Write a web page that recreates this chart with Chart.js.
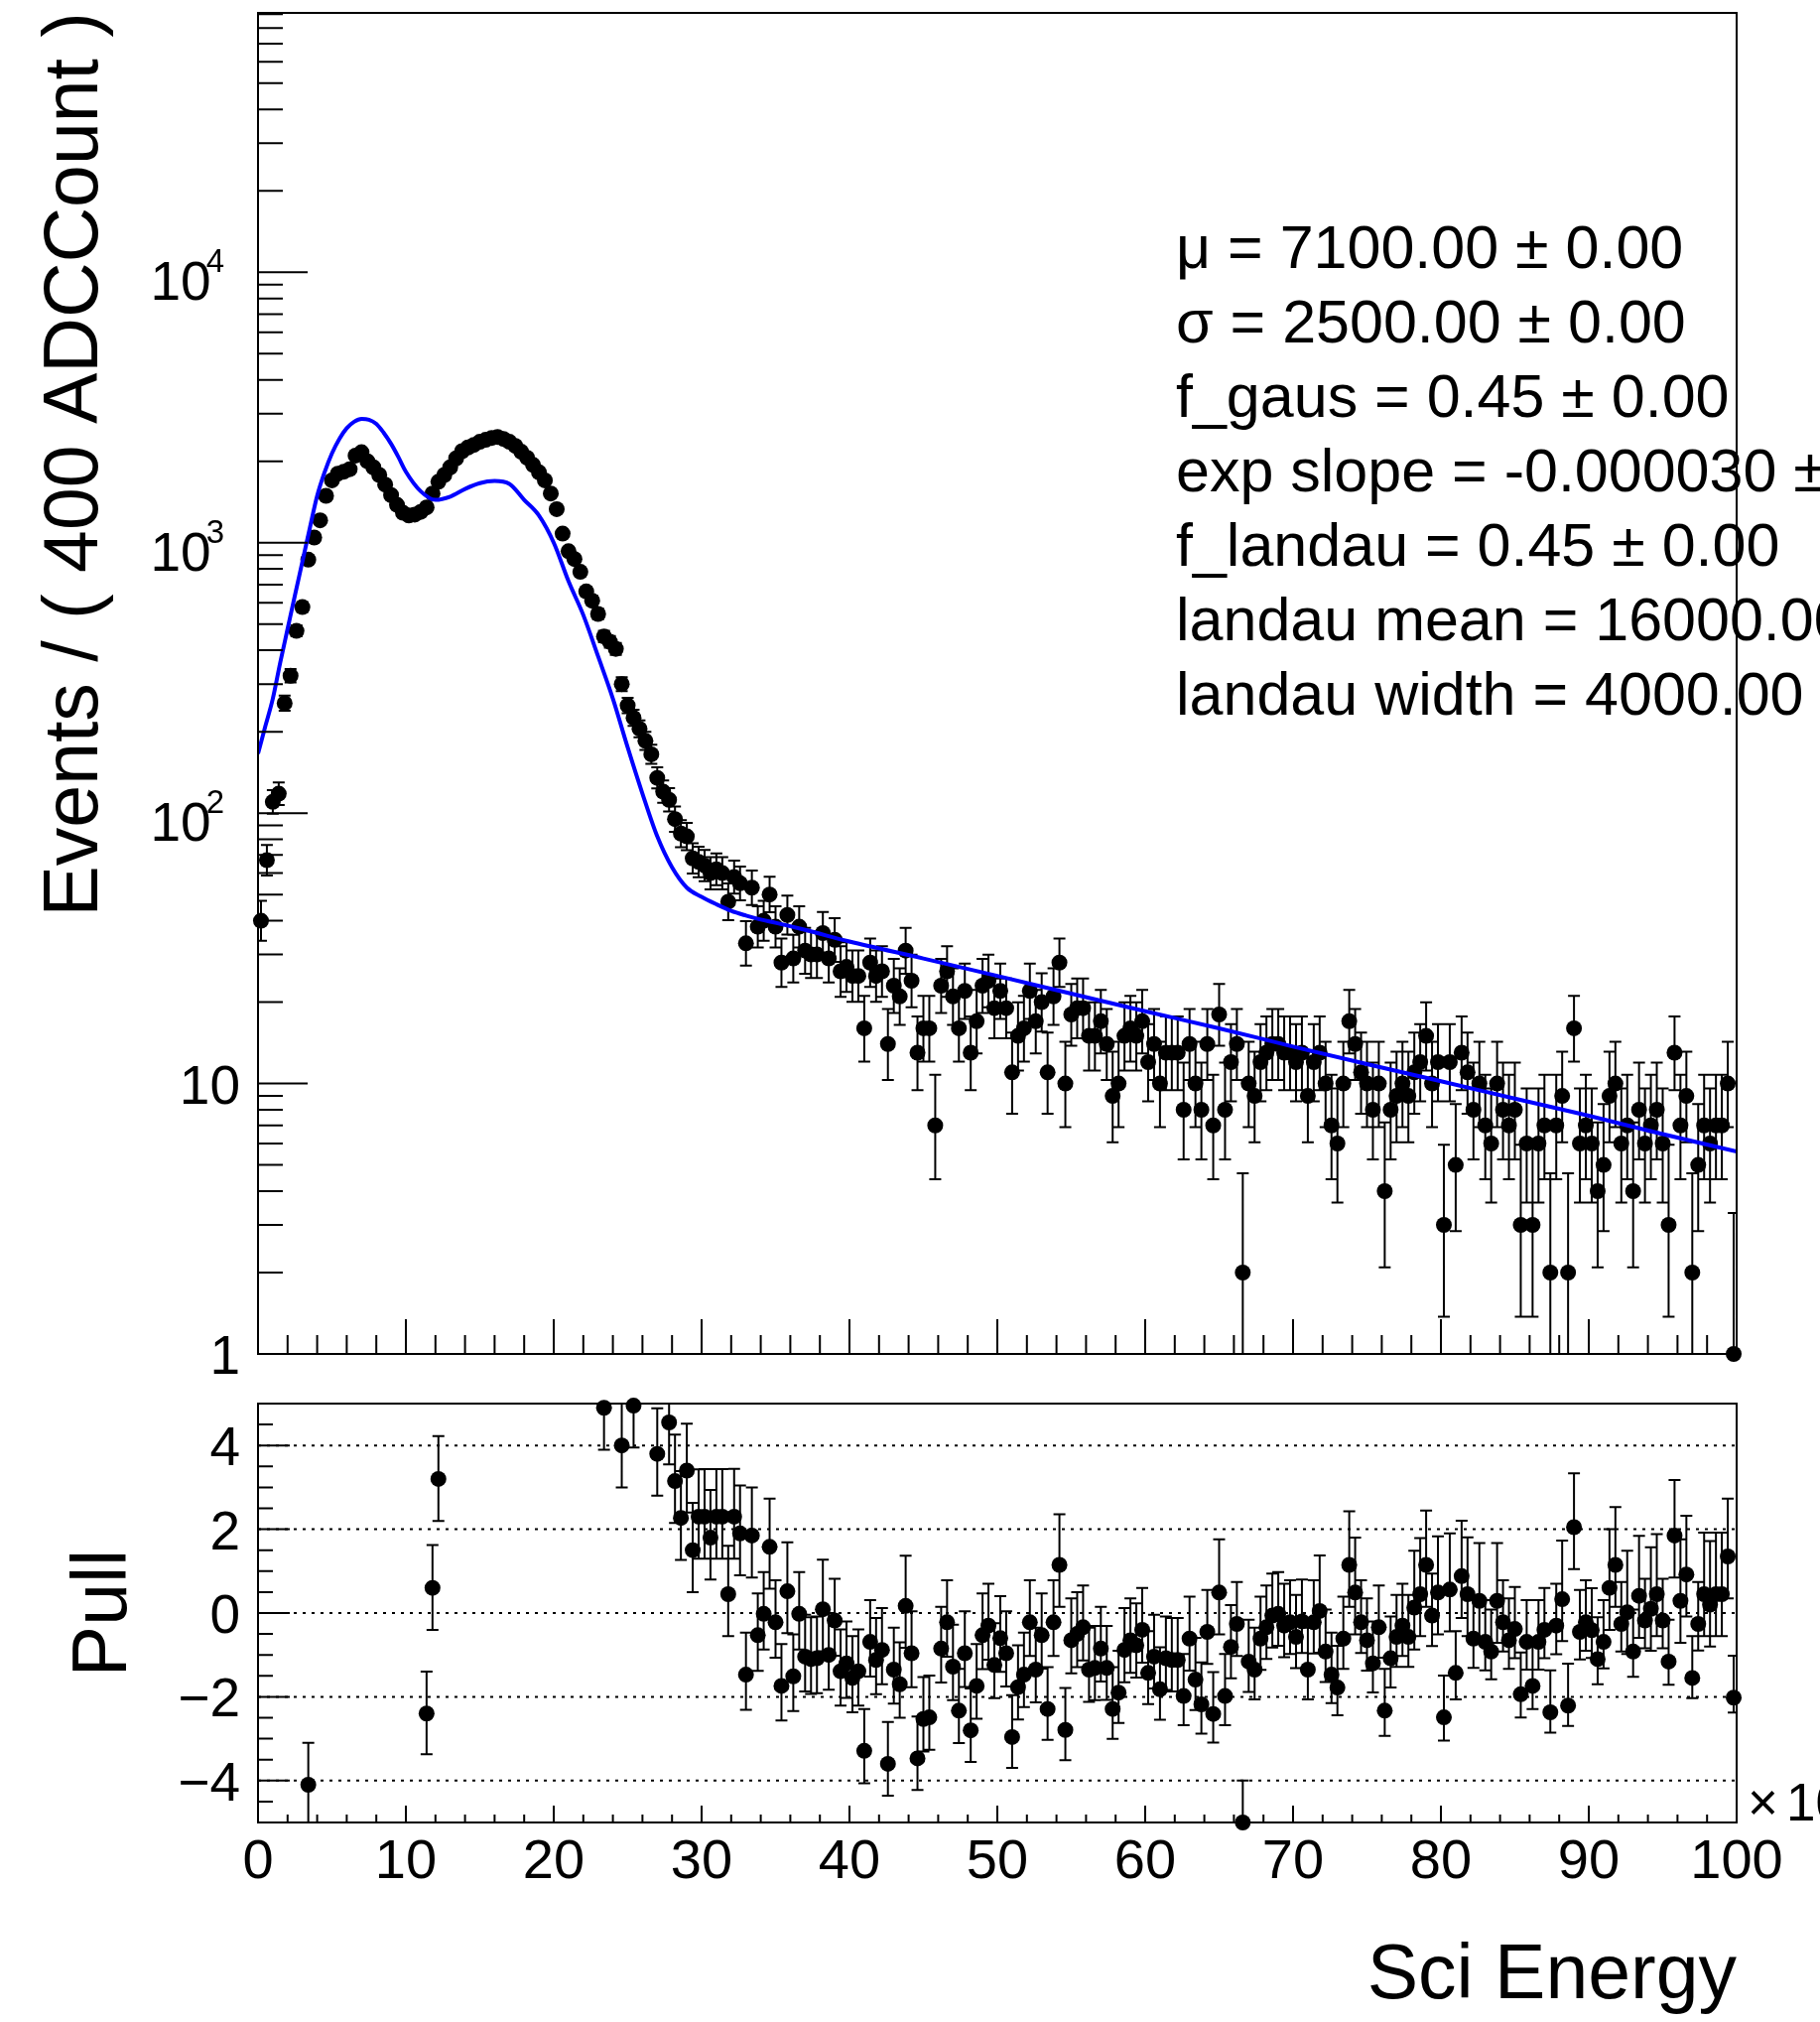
<!DOCTYPE html>
<html>
<head>
<meta charset="utf-8">
<script src="https://cdn.jsdelivr.net/npm/chart.js@4.4.1/dist/chart.umd.min.js"></script>
<style>
  html, body { margin: 0; padding: 0; background: #fff; }
  #wrap { position: relative; width: 1834px; height: 2037px; overflow: hidden; background: #fff; }
  #topChart { position: absolute; left: 0; top: 0; }
  #pullChart { position: absolute; left: 0; top: 1390px; }
</style>
</head>
<body>
<div id="wrap">
  <canvas id="topChart" width="1834" height="1390"></canvas>
  <canvas id="pullChart" width="1834" height="647"></canvas>
</div>
<script>
// bins of 400 ADC counts, x axis shown in units of 10^3
const BIN_WIDTH = 0.4;

// events per bin, 250 bins from 0 to 100 (x10^3)
const counts = [
  40, 67, 110, 118, 255, 322, 472, 578, 865, 1045,
  1210, 1490, 1700, 1800, 1830, 1870, 2100, 2160, 2000, 1900,
  1780, 1640, 1500, 1380, 1290, 1260, 1270, 1300, 1350, 1520,
  1680, 1780, 1900, 2050, 2180, 2250, 2300, 2360, 2400, 2440,
  2460, 2420, 2360, 2280, 2170, 2060, 1940, 1820, 1700, 1520,
  1330, 1080, 930, 870, 780, 660, 610, 545, 450, 430,
  405, 300, 250, 225, 205, 185, 165, 135, 120, 112,
  95, 84, 82, 68, 66, 64, 60, 62, 60, 47,
  58, 55, 33, 53, 38, 40, 50, 38, 28, 42,
  29, 38, 31, 30, 30, 36, 29, 34, 26, 27,
  25, 25, 16, 28, 25, 26, 14, 23, 21, 31,
  24, 13, 16, 16, 7, 23, 26, 21, 16, 22,
  13, 17, 23, 24, 19, 22, 19, 11, 15, 16,
  22, 17, 20, 11, 21, 28, 10, 18, 19, 19,
  15, 15, 17, 14, 9, 10, 15, 16, 15, 17,
  12, 14, 10, 13, 13, 13, 8, 14, 10, 8,
  14, 7, 18, 8, 12, 14, 2, 10, 9, 12,
  13, 14, 14, 13, 13, 12, 13, 9, 12, 13,
  10, 7, 6, 10, 17, 14, 11, 10, 8, 10,
  4, 8, 9, 10, 9, 11, 12, 15, 10, 12,
  3, 12, 5, 13, 11, 8, 10, 7, 6, 10,
  8, 7, 8, 3, 6, 3, 6, 7, 2, 7,
  9, 2, 16, 6, 7, 6, 4, 5, 9, 10,
  6, 7, 4, 8, 6, 7, 8, 6, 3, 13,
  7, 9, 2, 5, 7, 6, 7, 7, 10, 1
];

// pull per bin (null = outside the [-5, 5] window)
const pulls = [
  null, null, null, null, null, null, null, null, -4.1, null,
  null, null, null, null, null, null, null, null, null, null,
  null, null, null, null, null, null, null, null, -2.4, 0.6,
  3.2, null, null, null, null, null, null, null, null, null,
  null, null, null, null, null, null, null, null, null, null,
  null, null, null, null, null, null, null, null, 4.9, null,
  null, 4.0, null, 4.95, null, null, null, 3.8, null, 4.55,
  3.15, 2.27, 3.4, 1.5, 2.3, 2.3, 1.8, 2.3, 2.3, 0.45,
  2.3, 1.9, -1.47, 1.85, -0.53, -0.02, 1.58, -0.22, -1.74, 0.52,
  -1.51, -0.02, -1.04, -1.1, -1.08, 0.09, -1.0, -0.18, -1.39, -1.2,
  -1.55, -1.39, -3.29, -0.69, -1.12, -0.88, -3.6, -1.35, -1.7, 0.17,
  -0.96, -3.47, -2.53, -2.49, null, -0.85, -0.22, -1.28, -2.33, -0.96,
  -2.8, -1.74, -0.53, -0.3, -1.24, -0.6, -0.96, -2.96, -1.77, -1.47,
  -0.22, -1.35, -0.53, -2.29, -0.22, 1.15, -2.79, -0.65, -0.5, -0.34,
  -1.35, -1.31, -0.85, -1.31, -2.29, -1.9, -0.88, -0.65, -0.77, -0.4,
  -1.43, -1.04, -1.82, -1.08, -1.12, -1.12, -1.98, -0.61, -1.59, -2.18,
  -0.45, -2.41, 0.49, -1.98, -0.81, -0.26, -5.0, -1.16, -1.35, -0.61,
  -0.34, -0.06, -0.02, -0.3, -0.22, -0.57, -0.2, -1.35, -0.22, 0.05,
  -0.92, -1.47, -1.78, -0.61, 1.15, 0.49, -0.22, -0.65, -1.2, -0.34,
  -2.33, -1.08, -0.57, -0.3, -0.57, 0.13, 0.45, 1.15, -0.06, 0.49,
  -2.49, 0.56, -1.43, 0.88, 0.45, -0.61, 0.29, -0.69, -0.92, 0.29,
  -0.22, -0.65, -0.38, -1.94, -0.69, -1.74, -0.69, -0.4, -2.37, -0.3,
  0.33, -2.21, 2.05, -0.45, -0.22, -0.41, -1.1, -0.69, 0.6, 1.15,
  -0.26, 0.02, -0.92, 0.41, -0.18, 0.1, 0.45, -0.18, -1.16, 1.85,
  0.29, 0.92, -1.55, -0.26, 0.45, 0.2, 0.45, 0.45, 1.35, -2.02
];

// fitted model curve
const fitX = [0, 0.5, 1, 1.5, 2, 2.5, 3, 3.5, 4, 4.5, 5, 5.5, 6, 6.5, 7, 7.5, 8, 8.5, 9, 9.5,
  10, 11, 12, 13, 14, 15, 16, 17, 18, 19, 20, 21, 22, 23, 24, 25, 26, 27, 28, 29,
  30, 31, 32, 33, 34, 35, 37, 40, 45, 50, 55, 60, 65, 70, 75, 80, 85, 90, 95, 100];
const fitY = [166, 210, 265, 360, 480, 640, 850, 1130, 1490, 1820, 2140, 2420, 2650, 2800, 2870, 2850, 2750, 2550, 2320, 2070,
  1830, 1550, 1440, 1480, 1580, 1660, 1690, 1650, 1440, 1260, 1000, 720, 540, 380, 265, 175, 118, 82, 63, 53,
  49, 46, 43.5, 41.8, 40.4, 39.3, 37, 33.5, 29, 25, 21.5, 18.5, 16, 13.7, 11.8, 10.2, 8.8, 7.6, 6.5, 5.6];

const xLabelTicks = [0, 10, 20, 30, 40, 50, 60, 70, 80, 90, 100];
const topYTicks = [1, 10, 100, 1000, 10000];
const topYBase = ['1', '10', '10', '10', '10'];
const topYExp = ['', '', '2', '3', '4'];
const pullYTicks = [-4, -2, 0, 2, 4];
const pullYLabels = ['\u22124', '\u22122', '0', '2', '4'];

const statLines = [
  '\u03bc = 7100.00 \u00b1 0.00',
  '\u03c3 = 2500.00 \u00b1 0.00',
  'f_gaus = 0.45 \u00b1 0.00',
  'exp slope = -0.000030 \u00b1 0.000000',
  'f_landau = 0.45 \u00b1 0.00',
  'landau mean = 16000.00 \u00b1 0.00',
  'landau width = 4000.00 \u00b1 0.00'
];

const FONT = '"Liberation Sans", Arial, Helvetica, sans-serif';
const MARKER_R = 8;

// Gehrels approximation of the 68% Poisson interval
function poissonLo(n) {
  if (n <= 0) return 0;
  const t = 1 - 1 / (9 * n) - 1 / (3 * Math.sqrt(n));
  return n * t * t * t;
}
function poissonHi(n) {
  return n + Math.sqrt(n + 0.75) + 1;
}

const dataPts = counts.map((n, i) => ({ x: BIN_WIDTH * (i + 0.5), y: n }));
const fitPts = fitX.map((v, i) => ({ x: v, y: fitY[i] }));
const pullPts = [];
pulls.forEach((p, i) => {
  if (p !== null) pullPts.push({ x: BIN_WIDTH * (i + 0.5), y: p, n: counts[i] });
});

function clipArea(ctx, a) {
  ctx.beginPath();
  ctx.rect(a.left, a.top, a.right - a.left, a.bottom - a.top);
  ctx.clip();
}

const topPlugin = {
  id: 'topPlugin',
  beforeDatasetsDraw(chart) {
    const { ctx, chartArea: a, scales: { x, y } } = chart;
    ctx.save();
    clipArea(ctx, a);
    ctx.strokeStyle = '#000';
    ctx.lineWidth = 2;
    ctx.beginPath();
    counts.forEach((n, i) => {
      const px = x.getPixelForValue(BIN_WIDTH * (i + 0.5));
      const yHi = y.getPixelForValue(poissonHi(n));
      const yLo = y.getPixelForValue(poissonLo(n));
      ctx.moveTo(px, yLo);
      ctx.lineTo(px, yHi);
      ctx.moveTo(px - 6, yHi);
      ctx.lineTo(px + 6, yHi);
      ctx.moveTo(px - 6, yLo);
      ctx.lineTo(px + 6, yLo);
    });
    ctx.stroke();
    ctx.restore();
  },
  afterDraw(chart) {
    const { ctx, chartArea: a, scales: { x, y } } = chart;
    ctx.save();
    ctx.fillStyle = '#000';

    // fit parameters
    ctx.font = '61px ' + FONT;
    ctx.textAlign = 'left';
    ctx.textBaseline = 'alphabetic';
    statLines.forEach((s, k) => ctx.fillText(s, 1185, 270 + 75 * k));

    // frame
    ctx.strokeStyle = '#000';
    ctx.lineWidth = 2;
    ctx.strokeRect(a.left, a.top, a.right - a.left, a.bottom - a.top);

    // ticks
    ctx.beginPath();
    for (let v = 0; v <= 100; v += 2) {
      const px = x.getPixelForValue(v);
      const len = v % 10 === 0 ? 35 : 19;
      ctx.moveTo(px, a.bottom);
      ctx.lineTo(px, a.bottom - len);
    }
    for (let d = 0; d < 5; d++) {
      for (let m = 1; m < 10; m++) {
        const v = m * Math.pow(10, d);
        if (v > y.max) break;
        const py = y.getPixelForValue(v);
        const len = m === 1 ? 50 : 25;
        ctx.moveTo(a.left, py);
        ctx.lineTo(a.left + len, py);
      }
    }
    ctx.stroke();

    // y labels
    ctx.textAlign = 'right';
    topYTicks.forEach((v, k) => {
      const py = y.getPixelForValue(v);
      if (topYExp[k] === '') {
        ctx.font = '55px ' + FONT;
        ctx.fillText(topYBase[k], 242, py + 20);
      } else {
        ctx.font = '33px ' + FONT;
        const ew = ctx.measureText(topYExp[k]).width;
        ctx.fillText(topYExp[k], 226, py);
        ctx.font = '55px ' + FONT;
        ctx.fillText(topYBase[k], 231 - ew, py + 28);
      }
    });

    // y title
    ctx.save();
    ctx.translate(98, 12);
    ctx.rotate(-Math.PI / 2);
    ctx.font = '77px ' + FONT;
    ctx.textAlign = 'right';
    ctx.fillText('Events / ( 400 ADCCount )', 0, 0);
    ctx.restore();

    ctx.restore();
  }
};

const pullPlugin = {
  id: 'pullPlugin',
  beforeDatasetsDraw(chart) {
    const { ctx, chartArea: a, scales: { x, y } } = chart;
    ctx.save();
    // dotted reference lines
    ctx.strokeStyle = '#000';
    ctx.lineWidth = 2;
    ctx.setLineDash([3, 6]);
    ctx.beginPath();
    pullYTicks.forEach(v => {
      const py = y.getPixelForValue(v);
      ctx.moveTo(a.left, py);
      ctx.lineTo(a.right, py);
    });
    ctx.stroke();
    ctx.setLineDash([]);

    // error bars
    clipArea(ctx, a);
    ctx.beginPath();
    pullPts.forEach(pt => {
      const eLo = pt.n - poissonLo(pt.n);
      const eHi = poissonHi(pt.n) - pt.n;
      let up = 1, down = 1;
      if (pt.y >= 0) up = eHi / eLo; else down = eLo / eHi;
      const px = x.getPixelForValue(pt.x);
      const yHi = y.getPixelForValue(pt.y + up);
      const yLo = y.getPixelForValue(pt.y - down);
      ctx.moveTo(px, yLo);
      ctx.lineTo(px, yHi);
      ctx.moveTo(px - 6, yHi);
      ctx.lineTo(px + 6, yHi);
      ctx.moveTo(px - 6, yLo);
      ctx.lineTo(px + 6, yLo);
    });
    ctx.stroke();
    ctx.restore();
  },
  afterDraw(chart) {
    const { ctx, chartArea: a, scales: { x, y } } = chart;
    ctx.save();
    ctx.fillStyle = '#000';
    ctx.strokeStyle = '#000';
    ctx.lineWidth = 2;
    ctx.strokeRect(a.left, a.top, a.right - a.left, a.bottom - a.top);

    ctx.beginPath();
    for (let v = 0; v <= 100; v += 2) {
      const px = x.getPixelForValue(v);
      const len = v % 10 === 0 ? 17 : 8;
      ctx.moveTo(px, a.bottom);
      ctx.lineTo(px, a.bottom - len);
    }
    for (let v = -4.5; v <= 4.5; v += 0.5) {
      const py = y.getPixelForValue(v);
      const len = Math.abs(v % 2) < 1e-6 ? 32 : 15;
      ctx.moveTo(a.left, py);
      ctx.lineTo(a.left + len, py);
    }
    ctx.stroke();

    ctx.font = '55px ' + FONT;
    ctx.textAlign = 'right';
    pullYTicks.forEach((v, k) => {
      ctx.fillText(pullYLabels[k], 242, y.getPixelForValue(v) + 20);
    });

    ctx.font = '56px ' + FONT;
    ctx.textAlign = 'center';
    xLabelTicks.forEach(v => {
      ctx.fillText(String(v), x.getPixelForValue(v), 502);
    });

    // axis exponent
    ctx.textAlign = 'left';
    ctx.font = '53px ' + FONT;
    ctx.fillText('\u00d7', 1761, 444);
    ctx.fillText('10', 1800, 444);
    ctx.font = '30px ' + FONT;
    ctx.fillText('3', 1860, 418);

    // titles
    ctx.font = '77px ' + FONT;
    ctx.textAlign = 'right';
    ctx.fillText('Sci Energy', 1750, 623);

    ctx.save();
    ctx.translate(127, 235);
    ctx.rotate(-Math.PI / 2);
    ctx.textAlign = 'center';
    ctx.fillText('Pull', 0, 0);
    ctx.restore();

    ctx.restore();
  }
};

const topChart = new Chart(document.getElementById('topChart').getContext('2d'), {
  type: 'scatter',
  data: {
    datasets: [
      {
        label: 'data',
        data: dataPts,
        pointRadius: MARKER_R,
        pointBackgroundColor: '#000',
        pointBorderWidth: 0,
        showLine: false,
        clip: false,
        order: 1
      },
      {
        label: 'model',
        data: fitPts,
        showLine: true,
        borderColor: '#0000ff',
        borderWidth: 4,
        pointRadius: 0,
        cubicInterpolationMode: 'monotone',
        order: 0
      }
    ]
  },
  options: {
    responsive: false,
    animation: false,
    events: [],
    layout: { padding: { left: 260, right: 84, top: 13, bottom: 26 } },
    plugins: { legend: { display: false }, tooltip: { enabled: false } },
    scales: {
      x: { type: 'linear', min: 0, max: 100, display: false },
      y: { type: 'logarithmic', min: 1, max: 91000, display: false }
    }
  },
  plugins: [topPlugin]
});

const pullChart = new Chart(document.getElementById('pullChart').getContext('2d'), {
  type: 'scatter',
  data: {
    datasets: [
      {
        label: 'pull',
        data: pullPts,
        pointRadius: MARKER_R,
        pointBackgroundColor: '#000',
        pointBorderWidth: 0,
        showLine: false,
        clip: false
      }
    ]
  },
  options: {
    responsive: false,
    animation: false,
    events: [],
    layout: { padding: { left: 260, right: 84, top: 24, bottom: 201 } },
    plugins: { legend: { display: false }, tooltip: { enabled: false } },
    scales: {
      x: { type: 'linear', min: 0, max: 100, display: false },
      y: { type: 'linear', min: -5, max: 5, display: false }
    }
  },
  plugins: [pullPlugin]
});
</script>
</body>
</html>
